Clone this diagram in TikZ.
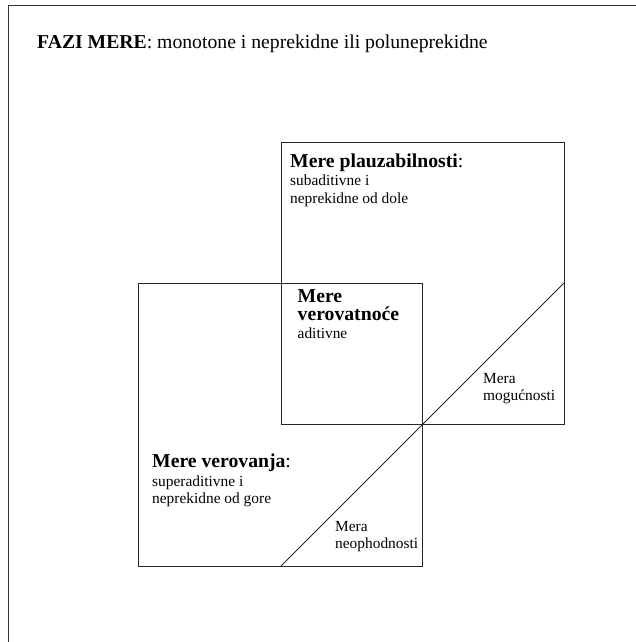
\documentclass[tikz,border=0pt]{standalone}
\usepackage{fontspec}
\setmainfont{Liberation Serif}
\begin{document}
\begin{tikzpicture}[x=1pt,y=-1pt,
  frameline/.style={line width=0.9pt,draw=black!80},
  boxline/.style={line width=0.9pt,draw=black!85},
  big/.style={inner sep=0pt,anchor=base west,font=\fontsize{19.7}{22}\selectfont},
  small/.style={inner sep=0pt,anchor=base west,font=\fontsize{15.4}{18}\selectfont}]
\useasboundingbox (0,0) rectangle (636,642);
% outer frame (cropped at right and bottom)
\draw[frameline] (8,645) -- (8,5) -- (640,5);
% title
\node[big] (title) at (37,48.5) {\textbf{FAZI MERE}: monotone i neprekidne ili poluneprekidne};
% boxes
\draw[boxline] (281,142) rectangle (564,424);
\draw[boxline] (138,283) rectangle (422,566);
\coordinate (dtop) at (564,283);
\coordinate (dbot) at (281,566);
\draw[boxline] (dtop) -- (dbot);
% plausibility
\node[big] (pl1) at (290,167) {\textbf{Mere plauzabilnosti}:};
\node[small] (pl2) at (290,185.5) {subaditivne i};
\node[small] (pl3) at (290,203.5) {neprekidne od dole};
% probability
\node[big] (pr1) at (297.5,302) {\textbf{Mere}};
\node[big] (pr2) at (297.5,320.5) {\textbf{verovatnoće}};
\node[small] (pr3) at (297.5,338) {aditivne};
% belief
\node[big] (be1) at (152,467) {\textbf{Mere verovanja}:};
\node[small] (be2) at (152,486) {superaditivne i};
\node[small] (be3) at (152,503.5) {neprekidne od gore};
% possibility
\node[small] (po1) at (483,383) {Mera};
\node[small] (po2) at (483,400) {mogućnosti};
% necessity
\node[small] (ne1) at (335,531.5) {Mera};
\node[small] (ne2) at (335,548.5) {neophodnosti};
\end{tikzpicture}
\end{document}
